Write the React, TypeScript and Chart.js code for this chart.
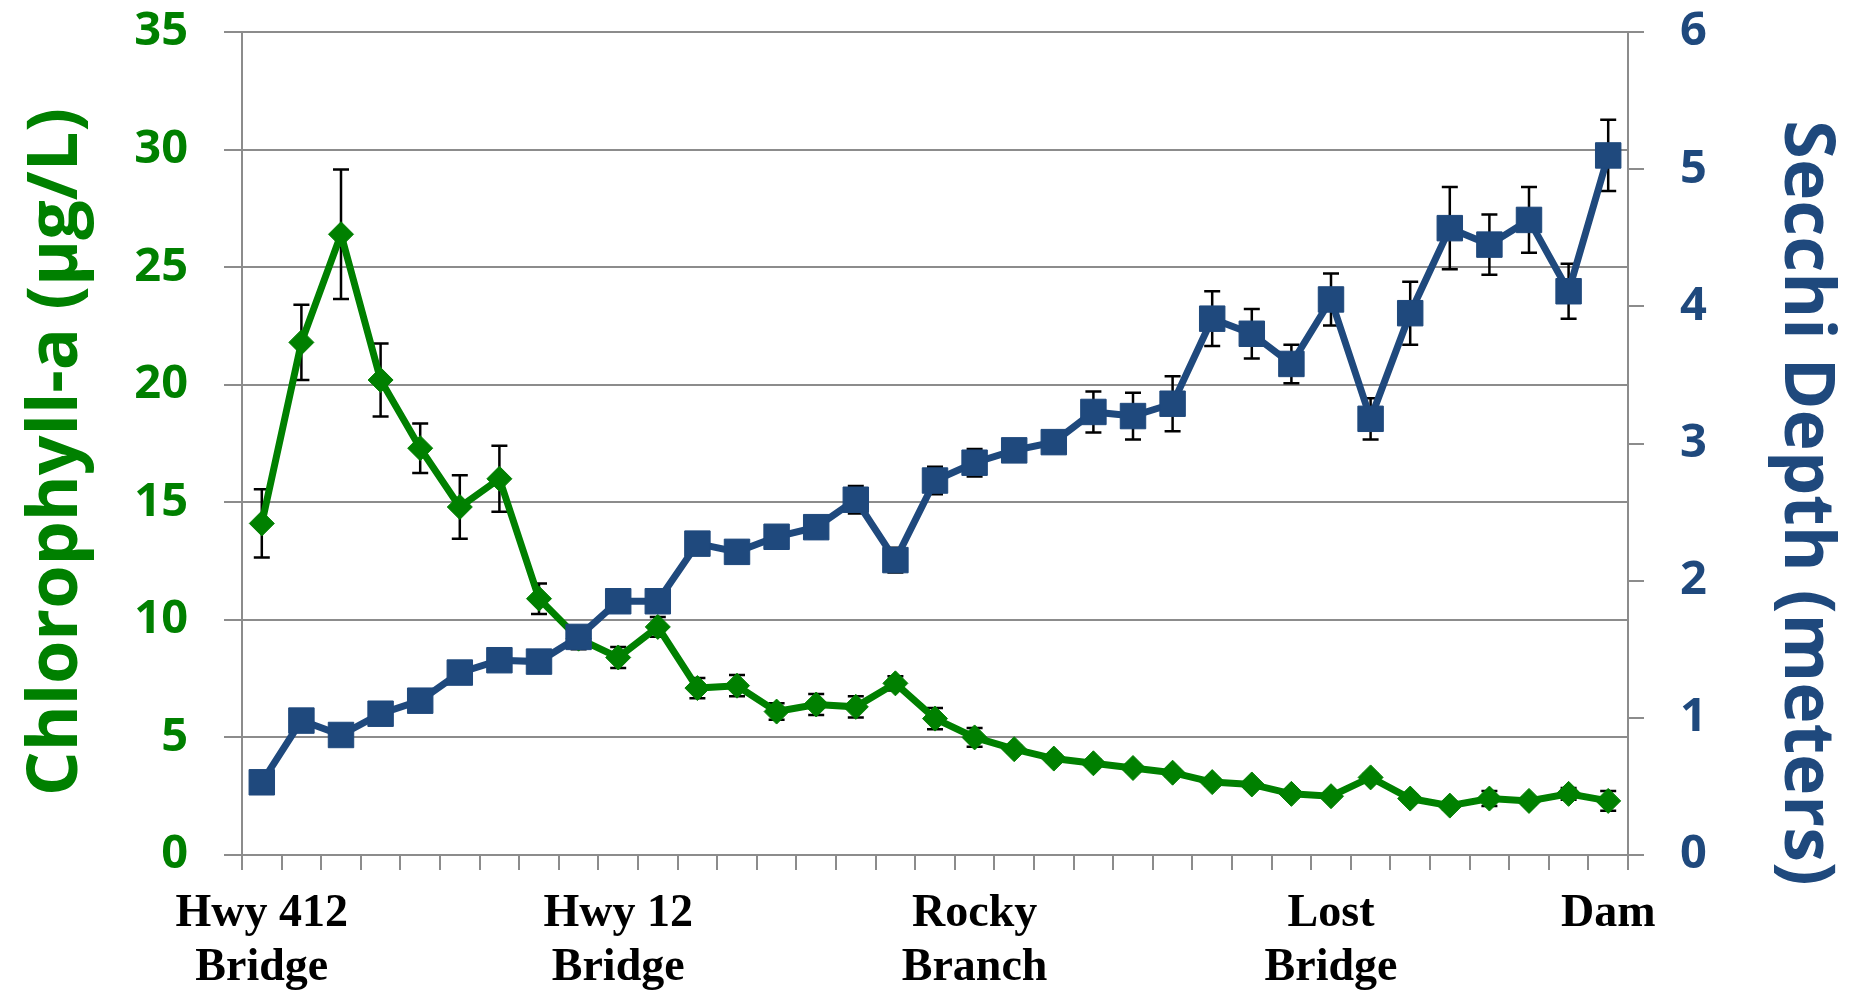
import React, { useEffect, useRef } from "react";
import { Chart, registerables } from "chart.js";

Chart.register(...registerables);

const siteLabels: (string | string[])[] = [
  ["Hwy 412", "Bridge"], "", "", "", "", "", "", "", "",
  ["Hwy 12", "Bridge"], "", "", "", "", "", "", "", "",
  ["Rocky", "Branch"], "", "", "", "", "", "", "", "",
  ["Lost", "Bridge"], "", "", "", "", "", "",
  "Dam",
];

const chlorophyll = [
  14.1, 21.8, 26.4, 20.2, 17.3, 14.8, 16.0, 10.9, 9.2, 8.4, 9.7, 7.1, 7.2, 6.1, 6.4, 6.3, 7.3, 5.8,
  5.0, 4.5, 4.1, 3.9, 3.7, 3.5, 3.1, 3.0, 2.6, 2.5, 3.3, 2.4, 2.1, 2.4, 2.3, 2.6, 2.3,
];
const chlorophyllErr = [
  1.45, 1.6, 2.75, 1.55, 1.05, 1.35, 1.4, 0.65, 0.45, 0.45, 0.42, 0.43, 0.45, 0.35, 0.45, 0.45, 0.3,
  0.45, 0.4, 0.15, 0.15, 0.15, 0.15, 0.15, 0.15, 0.15, 0.15, 0.15, 0.15, 0.15, 0.15, 0.32, 0.15, 0.25, 0.42,
];

const secchi = [
  0.53, 0.98, 0.875, 1.03, 1.125, 1.33, 1.42, 1.41, 1.59, 1.85, 1.85, 2.27, 2.21, 2.32, 2.39, 2.59,
  2.15, 2.73, 2.86, 2.95, 3.01, 3.23, 3.2, 3.29, 3.91, 3.8, 3.58, 4.05, 3.18, 3.95, 4.57, 4.45, 4.63,
  4.11, 5.1,
];
const secchiErr = [
  0.05, 0.05, 0.05, 0.05, 0.05, 0.05, 0.05, 0.05, 0.05, 0.05, 0.05, 0.05, 0.08, 0.05, 0.08, 0.1, 0.09,
  0.1, 0.1, 0.08, 0.08, 0.15, 0.17, 0.2, 0.2, 0.18, 0.14, 0.19, 0.15, 0.23, 0.3, 0.22, 0.24, 0.2, 0.26,
];

const leftTitle = "Chlorophyll-a (µg/L)";
const rightTitle = "Secchi Depth (meters)";

const GREEN = "#008000";
const BLUE = "#1F497D";
const GRAY = "#8c8c8c";

const errorBarPlugin = {
  id: "errorBars",
  beforeDatasetsDraw(chart: any) {
    const ctx = chart.ctx;
    ctx.save();
    ctx.strokeStyle = "#000";
    ctx.lineWidth = 2.5;
    chart.data.datasets.forEach((ds: any, i: number) => {
      const meta = chart.getDatasetMeta(i);
      const scale = chart.scales[ds.yAxisID];
      const errs: number[] = ds.errors;
      meta.data.forEach((pt: any, j: number) => {
        const v = ds.data[j];
        const e = errs[j];
        const yTop = scale.getPixelForValue(v + e);
        const yBot = scale.getPixelForValue(v - e);
        const x = pt.x;
        ctx.beginPath();
        ctx.moveTo(x, yTop);
        ctx.lineTo(x, yBot);
        ctx.moveTo(x - 8, yTop);
        ctx.lineTo(x + 8, yTop);
        ctx.moveTo(x - 8, yBot);
        ctx.lineTo(x + 8, yBot);
        ctx.stroke();
      });
    });
    ctx.restore();
  },
};

const titlePlugin = {
  id: "axisTitles",
  afterDraw(chart: any) {
    const ctx = chart.ctx;
    ctx.save();
    ctx.font = "bold 70px 'Open Sans'";
    ctx.textAlign = "center";
    ctx.textBaseline = "alphabetic";
    ctx.fillStyle = GREEN;
    ctx.translate(77, 452);
    ctx.rotate(-Math.PI / 2);
    ctx.fillText(leftTitle, 0, 0);
    ctx.restore();

    ctx.save();
    ctx.font = "bold 70px 'Open Sans'";
    ctx.textAlign = "center";
    ctx.textBaseline = "alphabetic";
    ctx.fillStyle = BLUE;
    ctx.translate(1785, 503);
    ctx.rotate(Math.PI / 2);
    ctx.fillText(rightTitle, 0, 0);
    ctx.restore();
  },
};

export default function App() {
  const canvasRef = useRef<HTMLCanvasElement | null>(null);

  useEffect(() => {
    if (!canvasRef.current) return;
    const chart = new Chart(canvasRef.current, {
      type: "line",
      data: {
        labels: siteLabels,
        datasets: [
          {
            label: "Chlorophyll-a",
            data: chlorophyll,
            errors: chlorophyllErr,
            yAxisID: "y",
            borderColor: GREEN,
            backgroundColor: GREEN,
            borderWidth: 7,
            pointStyle: "rectRot",
            pointRadius: 12.5,
            pointBorderWidth: 1,
            pointBackgroundColor: GREEN,
            pointBorderColor: GREEN,
            order: 1,
          } as any,
          {
            label: "Secchi Depth",
            data: secchi,
            errors: secchiErr,
            yAxisID: "y1",
            borderColor: BLUE,
            backgroundColor: BLUE,
            borderWidth: 7,
            pointStyle: "rect",
            pointRadius: 18,
            pointBorderWidth: 1,
            pointBackgroundColor: BLUE,
            pointBorderColor: BLUE,
            order: 0,
          } as any,
        ],
      },
      options: {
        animation: false,
        responsive: true,
        maintainAspectRatio: false,
        layout: { padding: { top: 32, left: 0, right: 0, bottom: 0 } },
        plugins: {
          legend: { display: false },
          tooltip: { enabled: false },
        },
        scales: {
          x: {
            type: "category",
            offset: true,
            grid: {
              display: true,
              drawOnChartArea: false,
              drawTicks: true,
              tickLength: 15,
              color: GRAY,
              lineWidth: 2,
              offset: true,
            },
            border: { display: true, color: GRAY, width: 2 },
            ticks: {
              autoSkip: false,
              maxRotation: 0,
              minRotation: 0,
              padding: 17,
              color: "#000",
              font: { family: "'Liberation Serif'", weight: "bold", size: 46, lineHeight: 1.17 },
            },
            afterFit(scale: any) {
              scale.height = 138;
              scale.paddingLeft = 0;
              scale.paddingRight = 0;
            },
          },
          y: {
            type: "linear",
            position: "left",
            min: 0,
            max: 35,
            ticks: {
              stepSize: 5,
              padding: 36,
              color: GREEN,
              font: { family: "'Open Sans'", weight: "bold", size: 47 },
            },
            grid: {
              display: true,
              drawOnChartArea: true,
              drawTicks: true,
              tickLength: 18,
              color: GRAY,
              lineWidth: 2,
            },
            border: { display: true, color: GRAY, width: 2 },
            afterFit(scale: any) {
              scale.width = 242;
              scale.paddingTop = 0;
              scale.paddingBottom = 0;
            },
          },
          y1: {
            type: "linear",
            position: "right",
            min: 0,
            max: 6,
            ticks: {
              stepSize: 1,
              padding: 36,
              color: BLUE,
              font: { family: "'Open Sans'", weight: "bold", size: 47 },
            },
            grid: {
              display: true,
              drawOnChartArea: false,
              drawTicks: true,
              tickLength: 16,
              color: GRAY,
              lineWidth: 2,
            },
            border: { display: true, color: GRAY, width: 2 },
            afterFit(scale: any) {
              scale.width = 238;
              scale.paddingTop = 0;
              scale.paddingBottom = 0;
            },
          },
        },
      } as any,
      plugins: [errorBarPlugin, titlePlugin],
    });
    return () => chart.destroy();
  }, []);

  return (
    <div style={{ position: "fixed", left: 0, top: 0, width: "1866px", height: "993px", background: "#fff" }}>
      <canvas ref={canvasRef} />
    </div>
  );
}
